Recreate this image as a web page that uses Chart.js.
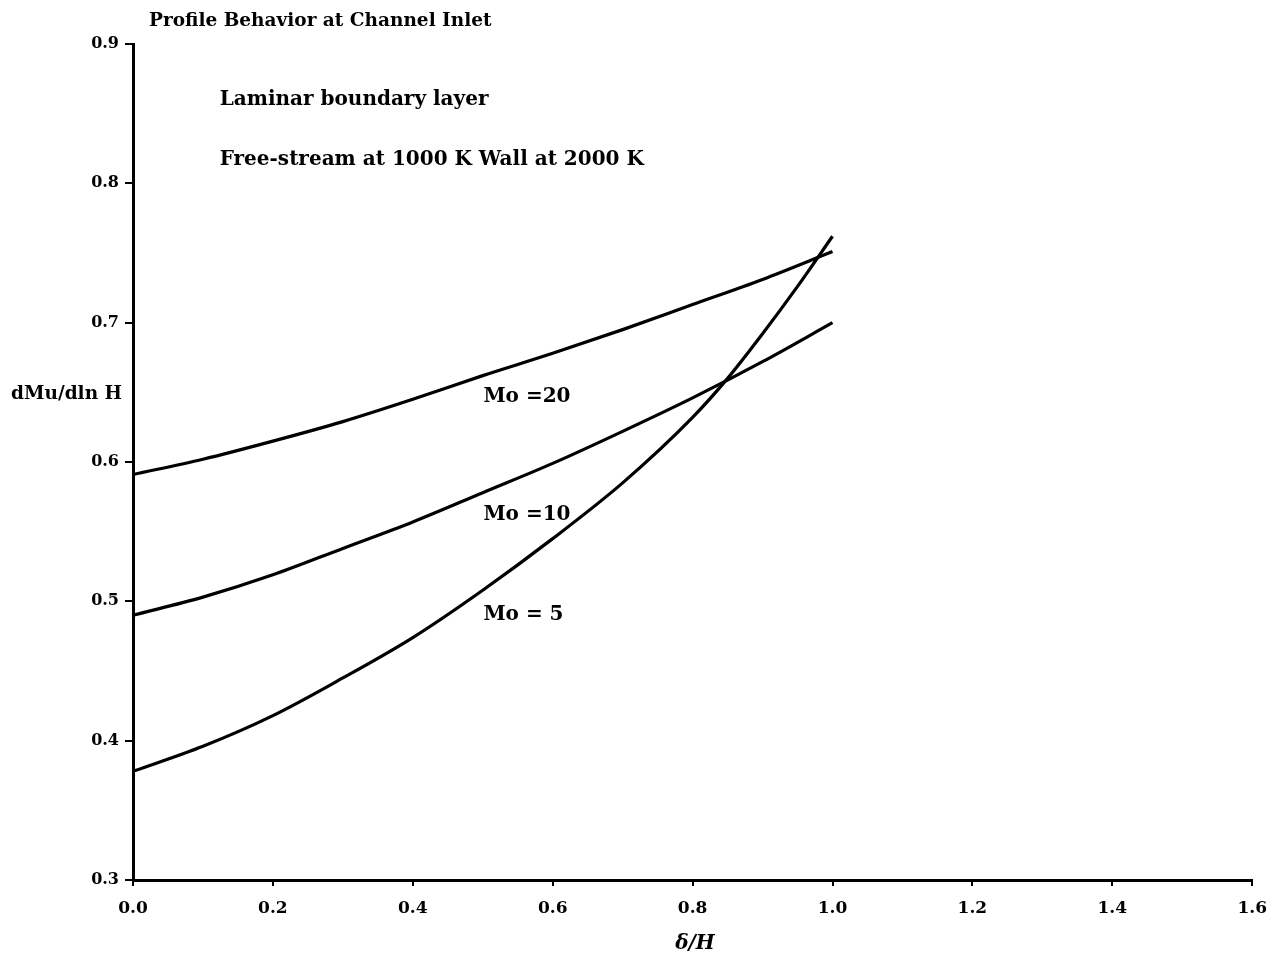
<!DOCTYPE html>
<html>
<head>
<meta charset="utf-8">
<script src="https://cdn.jsdelivr.net/npm/chart.js@4.4.1/dist/chart.umd.min.js"></script>
<style>
html,body{margin:0;padding:0;background:#fff;}
canvas{display:block;}
</style>
</head>
<body>
<canvas id="c" width="1279" height="963"></canvas>
<script>
// ---- data ----
const xTicks = [0.0, 0.2, 0.4, 0.6, 0.8, 1.0, 1.2, 1.4, 1.6];
const yTicks = [0.3, 0.4, 0.5, 0.6, 0.7, 0.8, 0.9];
const xMo20 = [0, 0.1, 0.2, 0.3, 0.4, 0.5, 0.6, 0.7, 0.8, 0.9, 1.0];
const yMo20 = [0.591, 0.602, 0.615, 0.629, 0.645, 0.662, 0.678, 0.695, 0.713, 0.731, 0.751];
const xMo10 = [0, 0.1, 0.2, 0.3, 0.4, 0.5, 0.6, 0.7, 0.8, 0.9, 1.0];
const yMo10 = [0.490, 0.503, 0.519, 0.538, 0.557, 0.578, 0.599, 0.622, 0.646, 0.672, 0.700];
const xMo5 = [0, 0.1, 0.2, 0.3, 0.4, 0.5, 0.6, 0.7, 0.8, 0.85, 0.9, 0.95, 1.0];
const yMo5 = [0.378, 0.396, 0.418, 0.445, 0.474, 0.508, 0.545, 0.585, 0.632, 0.660, 0.692, 0.726, 0.762];
const seriesNames = ["Mo =20", "Mo =10", "Mo = 5"];
const chartTitle = "Profile Behavior at Channel Inlet";
const notes = ["Laminar boundary layer", "Free-stream at 1000 K Wall at 2000 K"];
const yTitle = "dMu/dln H";
const xTitle = "\u03b4/H";

// ---- annotation placement (data coordinates) ----
const seriesLabelPos = [[0.501, 0.647], [0.501, 0.562], [0.501, 0.490]];
const notePos = [[0.124, 0.860], [0.124, 0.817]];

const toPts = (xs, ys) => xs.map((x, i) => ({x: x, y: ys[i]}));
const FONT = '"DejaVu Serif", serif';

const textPlugin = {
  id: 'texts',
  afterDraw(chart) {
    const ctx = chart.ctx;
    const xs = chart.scales.x, ys = chart.scales.y;
    ctx.save();
    ctx.fillStyle = '#000';
    ctx.textBaseline = 'middle';
    ctx.textAlign = 'left';
    ctx.font = 'bold 18.5px ' + FONT;
    ctx.fillText(chartTitle, 149, 21);
    ctx.font = 'bold 20px ' + FONT;
    notes.forEach((t, i) => {
      ctx.fillText(t, xs.getPixelForValue(notePos[i][0]), ys.getPixelForValue(notePos[i][1]));
    });
    ctx.font = 'bold 20px ' + FONT;
    seriesNames.forEach((t, i) => {
      ctx.fillText(t, xs.getPixelForValue(seriesLabelPos[i][0]), ys.getPixelForValue(seriesLabelPos[i][1]));
    });
    ctx.textAlign = 'right';
    ctx.font = 'bold 18.5px ' + FONT;
    ctx.fillText(yTitle, 122, ys.getPixelForValue(0.649));
    ctx.textAlign = 'center';
    ctx.font = 'italic bold 20px ' + FONT;
    ctx.fillText(xTitle, 695, 944);
    ctx.restore();
  }
};

new Chart(document.getElementById('c'), {
  type: 'line',
  data: {
    datasets: [
      {label: seriesNames[0], data: toPts(xMo20, yMo20)},
      {label: seriesNames[1], data: toPts(xMo10, yMo10)},
      {label: seriesNames[2], data: toPts(xMo5, yMo5)}
    ].map(d => Object.assign(d, {
      borderColor: '#000', borderWidth: 3.2, pointRadius: 0,
      cubicInterpolationMode: 'monotone', fill: false
    }))
  },
  options: {
    responsive: false,
    animation: false,
    layout: {padding: {left: 0, right: 25, top: 44, bottom: 0}},
    plugins: {legend: {display: false}, tooltip: {enabled: false}, title: {display: false}},
    scales: {
      x: {
        type: 'linear', min: 0, max: 1.6,
        afterBuildTicks: s => { s.ticks = xTicks.map(v => ({value: v})); },
        afterFit: s => { s.height = 963 - 880; },
        border: {color: '#000', width: 3},
        grid: {display: true, drawOnChartArea: false, drawTicks: true, tickLength: 6, color: '#000', lineWidth: 2},
        ticks: {color: '#000', padding: 12, font: {family: FONT, weight: 'bold', size: 17},
                callback: v => v.toFixed(1), maxRotation: 0}
      },
      y: {
        type: 'linear', min: 0.3, max: 0.9,
        afterBuildTicks: s => { s.ticks = yTicks.map(v => ({value: v})); },
        afterFit: s => { s.width = 133; },
        border: {color: '#000', width: 3},
        grid: {display: true, drawOnChartArea: false, drawTicks: true, tickLength: 8, color: '#000', lineWidth: 2},
        ticks: {color: '#000', padding: 6, font: {family: FONT, weight: 'bold', size: 16},
                callback: v => v.toFixed(1)}
      }
    }
  },
  plugins: [textPlugin]
});
</script>
</body>
</html>
